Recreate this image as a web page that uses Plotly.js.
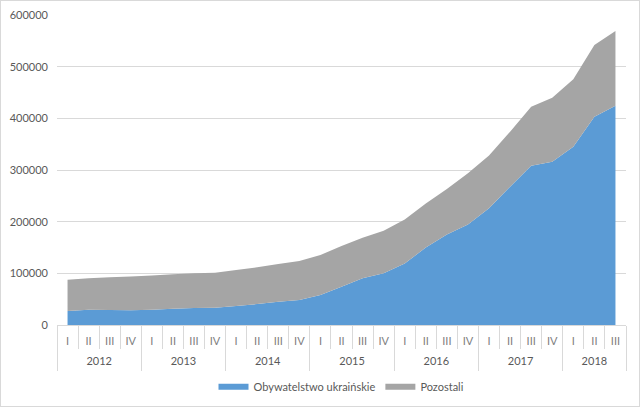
<!DOCTYPE html>
<html>
<head>
<meta charset="utf-8">
<script src="https://cdn.plot.ly/plotly-3.0.1.min.js"></script>
<style>
  body { margin: 0; background: #fff; }
  #chart { width: 640px; height: 407px; outline: 1px solid #d9d9d9; outline-offset: -1px; }
</style>
</head>
<body>
<div id="chart"></div>
<script>
// quarterly data, 2012 I - 2018 III
var years = ['2012','2012','2012','2012','2013','2013','2013','2013','2014','2014','2014','2014',
	'2015','2015','2015','2015','2016','2016','2016','2016','2017','2017','2017','2017','2018','2018','2018'];
var quarters = ['I','II','III','IV','I','II','III','IV','I','II','III','IV',
	'I','II','III','IV','I','II','III','IV','I','II','III','IV','I','II','III'];

var ukrainian = [27100, 29300, 29000, 28600, 29500, 31300, 32900, 33500, 36800, 40600, 45200, 48400,
	58100, 74200, 90300, 100000, 119000, 150000, 175000, 194500, 226000, 267700, 308400, 316100,
	345200, 403200, 424500];
var others = [60600, 61000, 63300, 65400, 66500, 66700, 67100, 67800, 69700, 71000, 72900, 75500,
	77400, 78700, 78700, 82600, 85000, 85000, 88000, 99000, 102000, 106500, 114200, 123900,
	130300, 138700, 144500];

// category positions 0..n-1, year groups from the years list
var idx = quarters.map(function (q, i) { return i; });
var n = idx.length;
var yearLabels = [], yearCenters = [], yearBounds = [-0.5];
var start = 0;
for (var i = 1; i <= n; i++) {
	if (i === n || years[i] !== years[i - 1]) {
		yearLabels.push(years[start]);
		yearCenters.push((start + i - 1) / 2);
		yearBounds.push(i - 0.5);
		start = i;
	}
}

var ukr = {
	x: idx,
	y: ukrainian,
	name: 'Obywatelstwo ukraińskie',
	type: 'scatter',
	mode: 'none',
	stackgroup: 'one',
	fillcolor: '#5B9BD5',
	line: { width: 0 }
};

var rest = {
	x: idx,
	y: others,
	name: 'Pozostali',
	type: 'scatter',
	mode: 'none',
	stackgroup: 'one',
	fillcolor: '#A5A5A5',
	line: { width: 0 }
};

// empty trace so the year axis gets drawn
var yearAxisHolder = {
	x: [],
	y: [],
	xaxis: 'x2',
	type: 'scatter',
	mode: 'none',
	showlegend: false
};

var layout = {
	width: 640,
	height: 407,
	paper_bgcolor: 'rgba(0,0,0,0)',
	plot_bgcolor: '#fff',
	showlegend: true,
	hovermode: false,
	margin: { l: 57, r: 14, t: 15, b: 82, autoexpand: false },
	font: { family: 'Lato, "Open Sans", sans-serif', size: 11, color: '#595959' },
	xaxis: {
		range: [-0.5, n - 0.5],
		automargin: false,
		showgrid: false,
		zeroline: false,
		showline: true,
		linecolor: '#d9d9d9',
		linewidth: 1,
		tickmode: 'array',
		tickvals: idx,
		ticktext: quarters,
		ticks: '',
		ticklabelstandoff: 6,
		tickfont: { size: 11, color: '#808080' },
		minor: {
			tick0: -0.5,
			dtick: 1,
			ticks: 'outside',
			ticklen: 23,
			tickcolor: '#d9d9d9',
			showgrid: false
		}
	},
	xaxis2: {
		overlaying: 'x',
		anchor: 'y',
		side: 'bottom',
		range: [-0.5, n - 0.5],
		automargin: false,
		showgrid: false,
		zeroline: false,
		showline: false,
		tickmode: 'array',
		tickvals: yearCenters,
		ticktext: yearLabels,
		ticks: '',
		ticklabelstandoff: 28,
		tickfont: { size: 11, color: '#595959' },
		minor: {
			tickmode: 'array',
			tickvals: yearBounds,
			ticks: 'outside',
			ticklen: 45,
			tickcolor: '#d9d9d9',
			showgrid: false
		}
	},
	yaxis: {
		range: [0, 600000],
		dtick: 100000,
		tickformat: 'd',
		automargin: false,
		showgrid: true,
		gridcolor: '#d9d9d9',
		zeroline: false,
		showline: false,
		ticks: '',
		ticklabelstandoff: 8,
		tickfont: { size: 11, color: '#595959' }
	},
	legend: {
		orientation: 'h',
		x: 0.5,
		xanchor: 'center',
		yref: 'container',
		y: 0.05,
		yanchor: 'middle',
		traceorder: 'normal',
		font: { size: 11, color: '#595959' }
	}
};

Plotly.newPlot('chart', [ukr, rest, yearAxisHolder], layout, { displayModeBar: false, staticPlot: true });
</script>
</body>
</html>
